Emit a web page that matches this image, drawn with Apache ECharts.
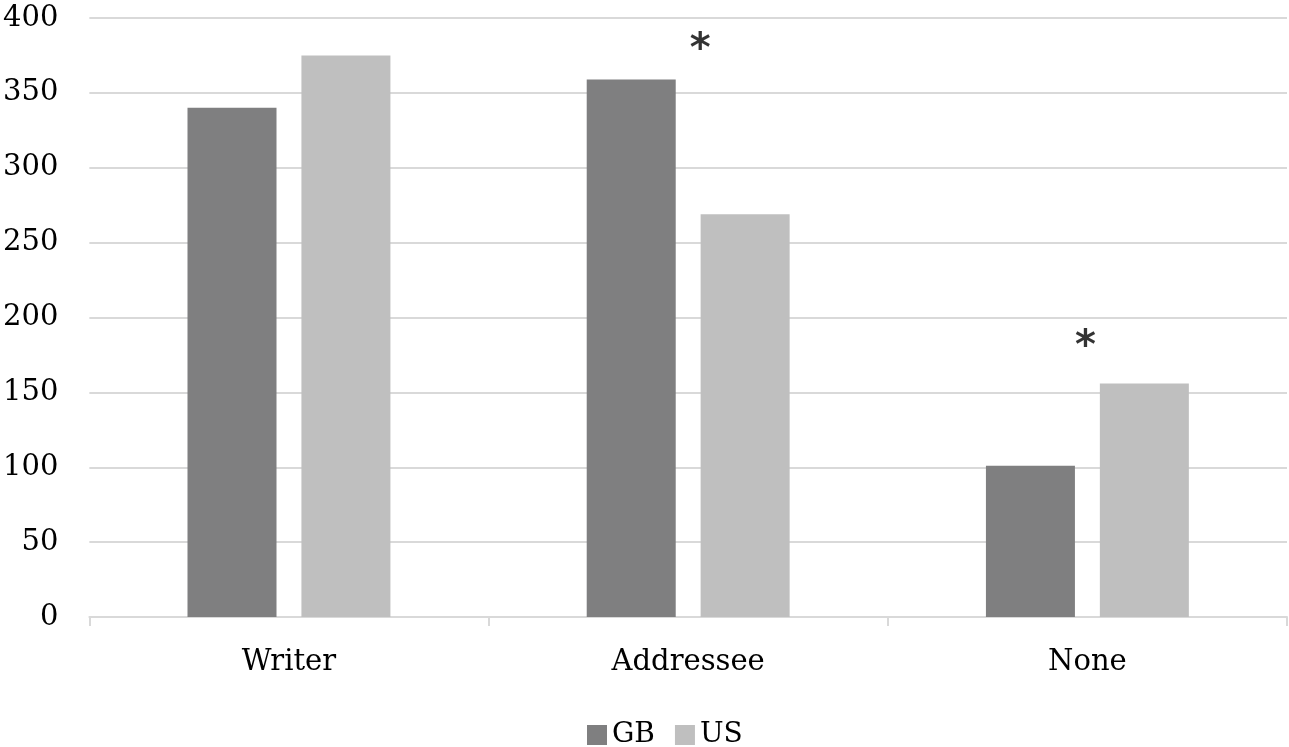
<!DOCTYPE html>
<html><head><meta charset="utf-8">
<script src="https://cdn.jsdelivr.net/npm/echarts@6/dist/echarts.min.js"></script>
<style>html,body{margin:0;padding:0;background:#fff}#c{width:1289px;height:747px}</style>
</head><body><div id="c"></div>
<script>
const categories = ['Writer', 'Addressee', 'None'];
const gbValues = [340, 359, 101];
const usValues = [375, 269, 156];
const yTicks = [0, 50, 100, 150, 200, 250, 300, 350, 400];
const sigMarks = [[1, 382], [2, 184]];

const FONT = '"DejaVu Serif", "Liberation Serif", serif';
const chart = echarts.init(document.getElementById('c'));
chart.setOption({
  animation: false,
  backgroundColor: '#fff',
  grid: { left: 88, right: 2, top: 18, bottom: 130 },
  legend: {
    top: 716, left: 582,
    data: ['GB', 'US'],
    itemWidth: 20, itemHeight: 20, itemGap: 20,
    icon: 'rect',
    textStyle: { fontFamily: FONT, fontSize: 28, color: '#000', padding: [0, 0, 0, 0] }
  },
  xAxis: {
    type: 'category', data: categories,
    axisLine: { lineStyle: { color: '#d9d9d9', width: 2 } },
    axisTick: { show: true, length: 9, lineStyle: { color: '#d9d9d9', width: 2 } },
    axisLabel: { fontFamily: FONT, fontSize: 29, color: '#000', margin: 31 }
  },
  yAxis: {
    type: 'value', min: yTicks[0], max: yTicks[yTicks.length - 1], interval: 50,
    axisLine: { show: false }, axisTick: { show: false },
    splitLine: { lineStyle: { color: '#d9d9d9', width: 2 } },
    axisLabel: { fontFamily: FONT, fontSize: 29, color: '#000', margin: 31 }
  },
  series: [
    { name: 'GB', type: 'bar', data: gbValues, barWidth: 89, barGap: '28%',
      itemStyle: { color: '#7f7f80' } },
    { name: 'US', type: 'bar', data: usValues, barWidth: 89,
      itemStyle: { color: '#bfbfbf' } },
    { name: 'sig', type: 'scatter', symbolSize: 0, silent: true,
      data: sigMarks.map((d, i) => ({ value: d, label: { offset: [i === 0 ? 12 : -2, 6] } })),
      label: { show: true, position: 'inside', formatter: '*', fontFamily: '"DejaVu Sans", sans-serif', fontSize: 40, color: '#000', fontWeight: 'bold' } }
  ]
});
</script></body></html>
